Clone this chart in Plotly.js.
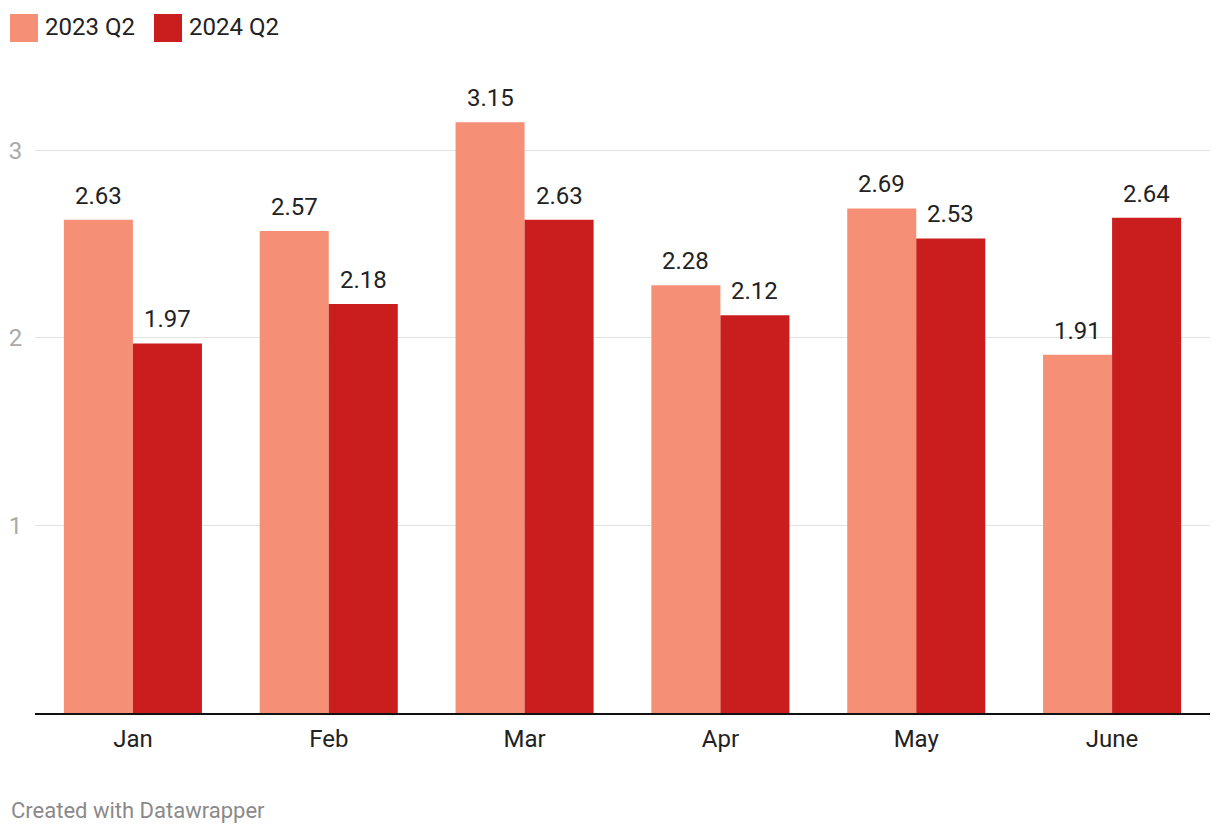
<!DOCTYPE html>
<html>
<head>
<meta charset="utf-8">
<script src="https://cdn.plot.ly/plotly-3.0.1.min.js"></script>
<style>html,body{margin:0;padding:0;background:#fff;}#chart{width:1220px;height:836px;}</style>
</head>
<body>
<div id="chart"></div>
<script>
const months = ["Jan", "Feb", "Mar", "Apr", "May", "June"];
const series2023 = [2.63, 2.57, 3.15, 2.28, 2.69, 1.91];
const series2024 = [1.97, 2.18, 2.63, 2.12, 2.53, 2.64];
const seriesNames = ["2023 Q2", "2024 Q2"];
const colors = ["#f58f76", "#c91d1e"];
const yTicks = [1, 2, 3];

const fontFamily = "Roboto, 'Noto Sans', sans-serif";
const allSeries = [series2023, series2024];

const data = allSeries.map((vals, i) => ({
  type: "bar", name: seriesNames[i], x: months, y: vals,
  marker: {color: colors[i], line: {width: 0}},
  hoverinfo: "x+y", showlegend: false
}));

const shapes = [];
const annotations = [];

// value labels above bars
const barHalf = 34.5;
allSeries.forEach((vals, i) => {
  vals.forEach((v, j) => {
    annotations.push({
      xref: "x", yref: "y", x: months[j], y: v,
      xshift: (i === 0 ? -barHalf : barHalf), yshift: 8,
      xanchor: "center", yanchor: "bottom", showarrow: false,
      text: v.toFixed(2),
      font: {family: fontFamily, size: 24, color: "#222"}
    });
  });
});

// legend
let lx = 10;
seriesNames.forEach((n, i) => {
  shapes.push({type: "rect", xref: "paper", yref: "paper", xsizemode: "pixel", ysizemode: "pixel",
    xanchor: 0, yanchor: 1, x0: lx - 35, x1: lx - 35 + 28, y0: 94 - 14, y1: 94 - 42,
    fillcolor: colors[i], line: {width: 0}});
  annotations.push({xref: "paper", yref: "paper", x: 0, y: 1, xshift: lx - 35 + 33, yshift: 94 - 27,
    xanchor: "left", yanchor: "middle", showarrow: false, text: n,
    font: {family: fontFamily, size: 24, color: "#222"}});
  lx += 144;
});
annotations.push({xref: "paper", yref: "paper", x: 0, y: 0, xshift: -26, yshift: -97,
  xanchor: "left", yanchor: "middle", showarrow: false, text: "Created with Datawrapper",
  font: {family: fontFamily, size: 22, color: "#8a8a8a"}});

const layout = {
  width: 1220, height: 836,
  margin: {l: 35, r: 10, t: 94, b: 123},
  paper_bgcolor: "#fff", plot_bgcolor: "#fff",
  font: {family: fontFamily},
  barmode: "group", bargap: 0.295, bargroupgap: 0,
  showlegend: false,
  xaxis: {
    type: "category", showgrid: false, zeroline: false,
    showline: true, linecolor: "#111", linewidth: 2,
    ticks: "", tickfont: {family: fontFamily, size: 24, color: "#222"},
    ticklabelstandoff: 3, fixedrange: true
  },
  yaxis: {
    range: [0, 3.3], tickvals: yTicks, ticktext: yTicks.map(String),
    showgrid: true, gridcolor: "#e2e2e2", gridwidth: 1,
    zeroline: false, showline: false,
    ticks: "outside", ticklen: 7, tickcolor: "rgba(0,0,0,0)",
    tickfont: {family: fontFamily, size: 24, color: "#aaaaaa"},
    fixedrange: true
  },
  shapes: shapes,
  annotations: annotations
};

Plotly.newPlot("chart", data, layout, {displayModeBar: false, staticPlot: true});
</script>
</body>
</html>
